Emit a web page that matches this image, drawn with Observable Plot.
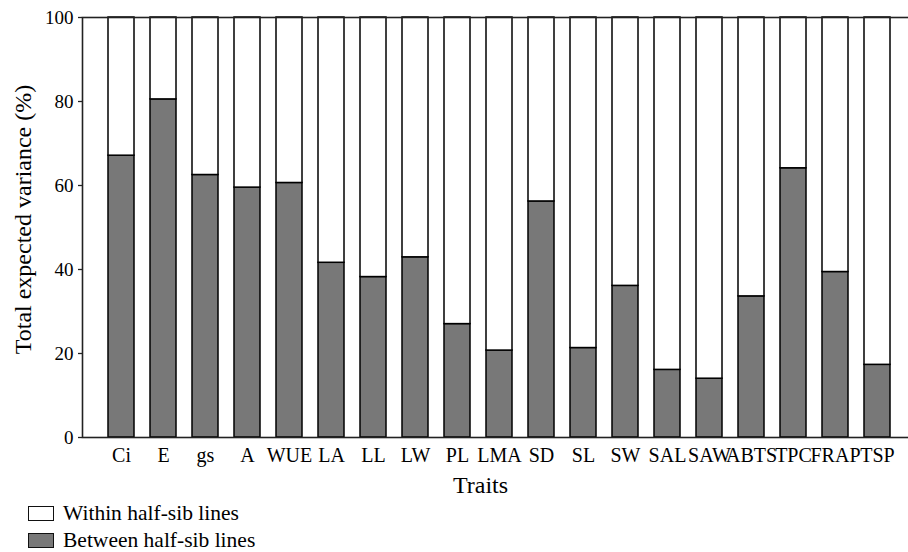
<!DOCTYPE html>
<html>
<head>
<meta charset="utf-8">
<script src="https://cdn.jsdelivr.net/npm/d3@7"></script>
<script src="https://cdn.jsdelivr.net/npm/@observablehq/plot@0.6"></script>
<style>
  html, body { margin: 0; padding: 0; background: white; overflow: hidden; width: 908px; height: 552px; }
  #wrap { position: relative; width: 908px; height: 552px; }
  .leg { position: absolute; font-family: "Liberation Serif", "Times New Roman", serif; font-size: 21.5px; line-height: 1; color: #000; white-space: nowrap; }
  .box { position: absolute; width: 24px; height: 13px; border: 1.6px solid #111; }
</style>
</head>
<body>
<div id="wrap"></div>
<script>
const traits = ["Ci","E","gs","A","WUE","LA","LL","LW","PL","LMA","SD","SL","SW","SAL","SAW","ABTS","TPC","FRAP","TSP"];
const betweenPct = [67.1,80.5,62.5,59.5,60.6,41.6,38.2,42.9,27.0,20.7,56.2,21.3,36.1,16.1,14.0,33.6,64.1,39.4,17.3];
const yTicks = [0,20,40,60,80,100];
const seriesNames = ["Between half-sib lines","Within half-sib lines"];
const seriesFill = ["#787878","#ffffff"];

const rows = [];
traits.forEach((t, i) => {
  rows.push({trait: t, series: seriesNames[0], y1: 0, y2: betweenPct[i]});
  rows.push({trait: t, series: seriesNames[1], y1: betweenPct[i], y2: 100});
});

const font = '"Liberation Serif", "Times New Roman", serif';

const chart = Plot.plot({
  width: 916,
  height: 500,
  marginLeft: 82,
  marginRight: 0,
  marginTop: 17,
  marginBottom: 63,
  style: `font-family: ${font}; max-width: none; background: white; color: #000; overflow: visible;`,
  x: {domain: traits, paddingInner: 0.375, paddingOuter: 0.513, align: 0.5},
  y: {domain: [0, 100]},
  color: {domain: seriesNames, range: seriesFill},
  marks: [
    Plot.barY(rows, {x: "trait", y1: "y1", y2: "y2", fill: "series", stroke: "#000", strokeWidth: 1.5}),
    Plot.frame({stroke: "#222", strokeWidth: 1.6}),
    Plot.axisY({ticks: yTicks, tickSize: 4, tickPadding: 5, fontSize: 19, label: null, stroke: "#222", strokeWidth: 1.3}),
    Plot.axisX({tickSize: 0, tickPadding: 10, fontSize: 20, label: null}),
    Plot.text(["Total expected variance (%)"], {frameAnchor: "left", textAnchor: "middle", lineAnchor: "middle", dx: -59, dy: -8, rotate: -90, fontSize: 24, text: d => d, fill: "#000"}),
    Plot.text(["Traits"], {frameAnchor: "bottom", textAnchor: "middle", lineAnchor: "middle", dx: -19, dy: 48, fontSize: 24, text: d => d, fill: "#000"})
  ]
});

const wrap = document.getElementById("wrap");
wrap.appendChild(chart);

const legendTops = [506, 533];
[[seriesNames[1], seriesFill[1]], [seriesNames[0], seriesFill[0]]].forEach(([name, fill], i) => {
  const b = document.createElement("div");
  b.className = "box";
  b.style.left = "28px";
  b.style.top = legendTops[i] + "px";
  b.style.background = fill;
  wrap.appendChild(b);
  const t = document.createElement("div");
  t.className = "leg";
  t.style.left = "63px";
  t.style.top = (legendTops[i] - 3) + "px";
  t.textContent = name;
  wrap.appendChild(t);
});
</script>
</body>
</html>
